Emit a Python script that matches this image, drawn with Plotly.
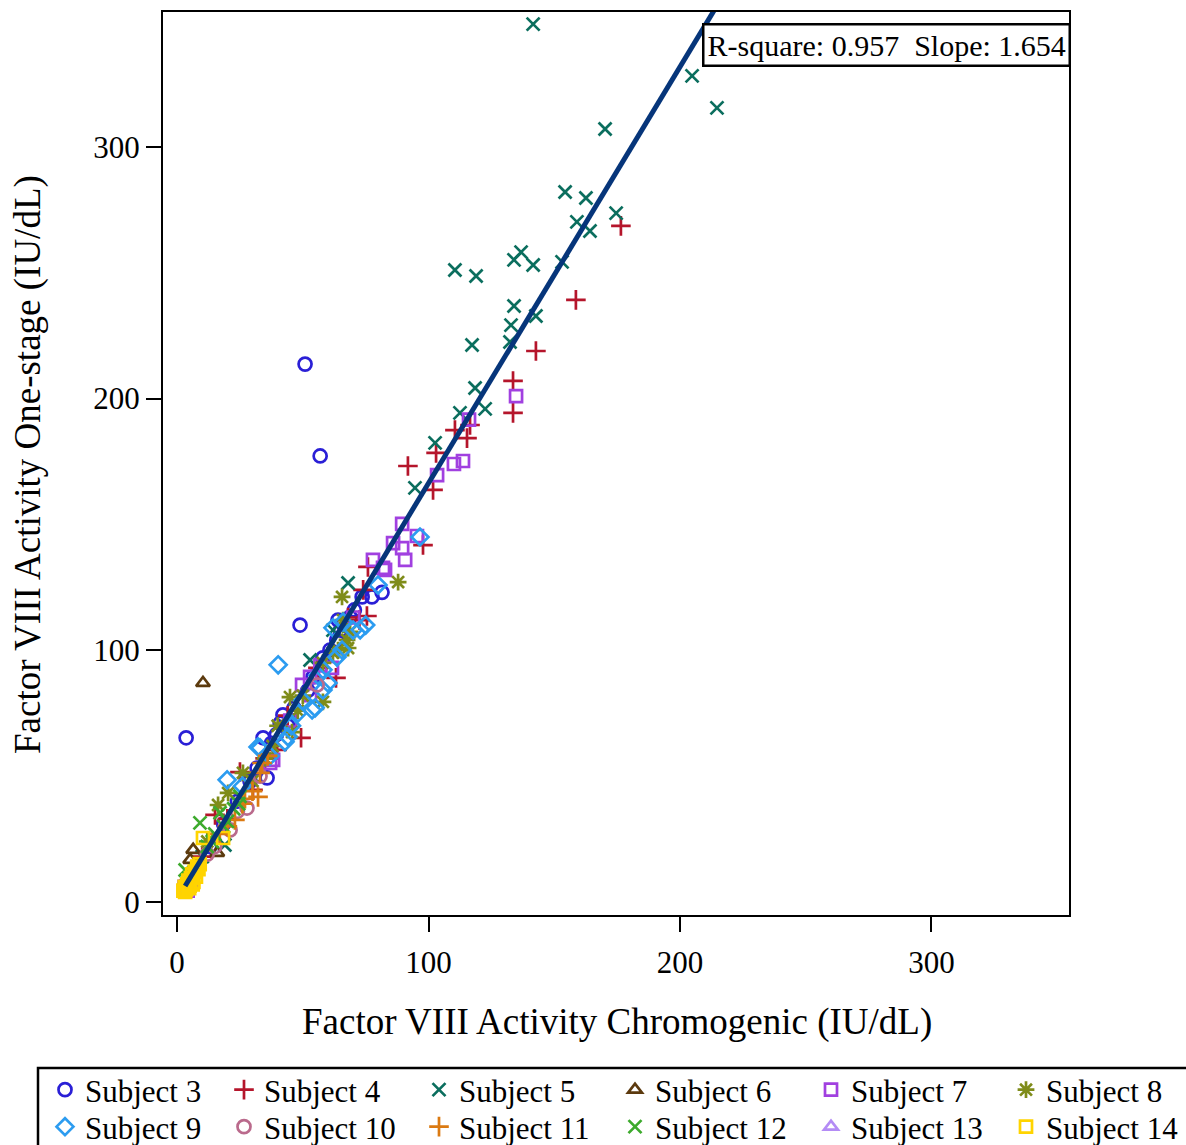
import plotly.graph_objects as go

W, H = 1186, 1145
L, R, T, B = 163, 117, 12, 230

subjects = ["Subject 3", "Subject 4", "Subject 5", "Subject 6", "Subject 7", "Subject 8",
            "Subject 9", "Subject 10", "Subject 11", "Subject 12", "Subject 13", "Subject 14"]

x3 = [3.6, 50.9, 56.9, 48.9, 73.6, 77.5, 81.5, 68.8, 60.8, 54.1, 52.0, 42.1, 34.2, 35.8, 31.8, 66.0, 63.5, 58.0, 46.5, 44.0, 39.5, 29.0, 24.0, 18.5, 13.0, 8.0, 4.5, 3.2, 70.5, 65.0, 64.0, 41.0, 37.5]
y3 = [65.2, 213.7, 177.2, 110.0, 121.2, 121.2, 123.0, 113.2, 100.1, 89.4, 84.0, 74.3, 65.2, 49.3, 53.2, 110.5, 104.0, 97.0, 77.0, 70.0, 66.5, 48.0, 40.0, 31.0, 22.0, 14.0, 7.5, 6.8, 116.0, 108.0, 112.0, 71.0, 63.0]

x4 = [176.5, 158.6, 142.7, 133.6, 133.6, 116.5, 110.5, 115.3, 91.8, 103.0, 101.8, 97.8, 75.9, 75.5, 72.5, 63.2, 49.3, 25.0, 39.8, 30.2, 15.1, 68.0, 74.0, 56.0, 44.0, 20.0, 10.0, 6.0, 35.0]
y4 = [268.6, 239.2, 218.9, 207.0, 194.3, 189.5, 187.5, 184.3, 173.2, 178.4, 163.7, 141.8, 133.1, 113.6, 112.0, 89.0, 65.2, 51.6, 60.4, 44.5, 34.6, 113.0, 124.0, 93.0, 74.0, 33.0, 18.0, 11.0, 57.0]

x5 = [141.6, 204.8, 214.7, 170.2, 154.3, 162.6, 159.0, 164.2, 174.6, 153.1, 110.5, 118.9, 136.8, 134.0, 141.6, 134.0, 142.7, 132.8, 132.4, 117.3, 118.5, 122.5, 112.5, 102.6, 94.6, 68.0, 62.0, 52.9, 19.0, 10.0, 6.0]
y5 = [348.8, 328.2, 315.5, 307.1, 282.1, 279.7, 270.2, 266.6, 273.7, 254.3, 251.1, 248.7, 258.2, 255.1, 253.1, 236.8, 232.8, 229.2, 222.5, 221.3, 204.2, 195.9, 194.3, 182.4, 164.5, 126.7, 108.0, 96.1, 22.6, 18.0, 10.0]

x6 = [10.3, 6.4, 5.2, 16.0, 8.0, 4.0]
y6 = [87.0, 20.7, 16.7, 19.5, 14.0, 8.0]

x7 = [134.8, 116.1, 103.4, 110.1, 113.7, 89.5, 95.4, 85.9, 89.5, 90.7, 77.9, 81.9, 82.7, 38.2, 37.0, 49.7, 52.9, 61.6, 52.9, 3.0, 4.2, 5.5, 45.0, 70.0, 57.0]
y7 = [201.0, 191.6, 169.6, 174.0, 175.2, 150.2, 145.4, 142.6, 140.6, 135.9, 135.9, 132.7, 131.9, 56.4, 55.2, 86.2, 82.2, 93.0, 89.4, 6.0, 4.5, 8.5, 72.0, 113.0, 94.0]

x8 = [87.9, 65.6, 68.0, 67.6, 58.0, 44.9, 26.2, 45.7, 20.3, 16.3, 50.0, 35.0, 40.0, 62.0, 30.0, 12.0, 64.0, 58.0, 66.0, 68.8, 48.0, 38.0]
y8 = [127.1, 121.2, 100.9, 104.1, 79.5, 81.4, 51.3, 67.5, 43.3, 38.5, 82.0, 57.0, 70.0, 99.0, 48.0, 24.0, 100.0, 95.0, 112.0, 107.3, 76.0, 62.0]

x9 = [40.2, 19.9, 96.6, 79.9, 72.8, 66.0, 62.0, 65.6, 63.6, 58.0, 60.0, 53.7, 44.1, 33.0, 58.0, 54.9, 42.9, 32.2, 70.0, 50.0, 48.0, 37.0, 26.0, 75.0, 56.0, 45.5]
y9 = [94.2, 48.5, 145.0, 125.9, 108.1, 111.2, 108.9, 100.1, 97.3, 92.2, 87.0, 76.3, 65.6, 61.2, 84.2, 77.1, 63.6, 61.6, 108.0, 80.0, 75.0, 58.0, 46.0, 110.0, 90.0, 70.0]

x10 = [55.7, 27.8, 21.1, 15.0, 24.0, 12.0, 8.0, 33.0]
y10 = [86.2, 37.3, 28.6, 22.0, 36.0, 19.0, 13.0, 50.0]

x11 = [32.2, 27.0, 33.8, 33.0, 23.0, 30.0, 20.0, 17.0, 36.0, 26.0]
y11 = [41.7, 41.0, 55.2, 51.3, 32.6, 44.0, 30.0, 27.0, 58.0, 39.0]

x12 = [9.1, 17.1, 20.0, 22.5, 15.0, 18.5, 24.5, 12.0, 3.2, 25.0, 14.0]
y12 = [31.4, 35.4, 32.0, 37.0, 27.0, 30.0, 39.0, 22.0, 12.7, 42.0, 24.0]

x13 = [3.0, 4.5, 6.0, 3.8]
y13 = [5.0, 7.5, 11.0, 4.0]

x14 = [2.5, 3.0, 3.5, 4.0, 4.5, 5.0, 5.5, 6.0, 6.5, 7.0, 7.5, 8.0, 9.0, 10.3, 18.3, 3.2, 4.8, 6.2, 8.5]
y14 = [4.5, 6.0, 5.0, 7.0, 8.5, 6.5, 9.5, 11.0, 8.0, 12.0, 10.0, 14.0, 15.0, 25.4, 25.4, 4.0, 5.5, 7.0, 13.0]

fit_x = [3.2, 216.0]
slope = 1.654
intercept = 1.0
r_square = 0.957

x_title = "Factor VIII Activity Chromogenic (IU/dL)"
y_title = "Factor VIII Activity One-stage (IU/dL)"
tick_vals = [0, 100, 200, 300]

xs = [x3, x4, x5, x6, x7, x8, x9, x10, x11, x12, x13, x14]
ys = [y3, y4, y5, y6, y7, y8, y9, y10, y11, y12, y13, y14]
colors = ["#2A1FD6", "#B5152B", "#0B6E5E", "#5C3A0E", "#A140E0", "#7F8C1A",
          "#2C9CF0", "#BA6A8C", "#DB7A12", "#3DAA2D", "#B48CF5", "#FFD400"]
symbols = ["circle-open", "cross-thin-open", "x-thin-open", "triangle-up-open", "square-open", "asterisk-open",
           "diamond-open", "circle-open", "cross-thin-open", "x-thin-open", "triangle-up-open", "square-open"]
sizes = [13, 14, 13, 12, 12, 14, 13, 13, 14, 13, 12, 12]

FONT = "Liberation Serif"
fig = go.Figure()
for i, name in enumerate(subjects):
    fig.add_trace(go.Scatter(
        x=xs[i], y=ys[i], mode="markers", name=name,
        legend="legend" if i == 0 else f"legend{i + 1}",
        marker=dict(symbol=symbols[i], size=sizes[i], color=colors[i],
                    line=dict(width=2.7, color=colors[i])),
    ))

fit_y = [intercept + slope * v for v in fit_x]
fig.add_trace(go.Scatter(x=fit_x, y=fit_y, mode="lines", showlegend=False,
                         line=dict(color="#06357A", width=5)))

text_x = [85, 264, 459, 655, 851, 1046]
row_top = [1063, 1100]
leg = {}
for i in range(12):
    key = "legend" if i == 0 else f"legend{i + 1}"
    c, r = i % 6, i // 6
    leg[key] = dict(xref="container", yref="container", x=(text_x[c] - 40) / W, y=1 - row_top[r] / H,
                    xanchor="left", yanchor="top", orientation="v",
                    bgcolor="rgba(0,0,0,0)", borderwidth=0,
                    font=dict(family=FONT, size=31, color="black"), tracegroupgap=0)

pw = W - L - R
ph = H - T - B
def px(xp):
    return (xp - L) / pw
def py(yp):
    return (H - B - yp) / ph

axis_common = dict(showline=True, linewidth=2, linecolor="black", mirror=True,
                   ticks="outside", ticklen=15, tickwidth=2, tickcolor="black",
                   showgrid=False, zeroline=False, automargin=False,
                   tickfont=dict(family=FONT, size=31, color="black"),
                   tickvals=tick_vals)

fig.update_layout(
    width=W, height=H,
    margin=dict(l=L, r=R, t=T, b=B, autoexpand=False),
    paper_bgcolor="white", plot_bgcolor="white",
    font=dict(family=FONT, color="black"),
    xaxis=dict(range=[-5.6, 354.7], ticklabelstandoff=4, **axis_common),
    yaxis=dict(range=[-5.2, 353.6], **axis_common),
    shapes=[dict(type="rect", xref="paper", yref="paper",
                 x0=px(38), x1=px(1200), y0=py(1068), y1=py(1170),
                 line=dict(color="black", width=2.5), fillcolor="rgba(0,0,0,0)")],
    annotations=[
        dict(xref="paper", yref="paper", x=px(1071), y=py(23), xanchor="right", yanchor="top",
             text=f"R-square: {r_square:.3f}\u00a0\u00a0Slope: {slope:.3f}", showarrow=False,
             font=dict(family=FONT, size=30, color="black"),
             bordercolor="black", borderwidth=2.5, borderpad=3, bgcolor="white"),
        dict(xref="paper", yref="paper", x=px(617), y=py(1022), xanchor="center", yanchor="middle",
             text=x_title, showarrow=False, font=dict(family=FONT, size=37, color="black")),
        dict(xref="paper", yref="paper", x=px(28), y=py(465), xanchor="center", yanchor="middle",
             text=y_title, showarrow=False, textangle=-90, font=dict(family=FONT, size=37, color="black")),
    ],
    **leg,
)

fig.write_html("out.html")
